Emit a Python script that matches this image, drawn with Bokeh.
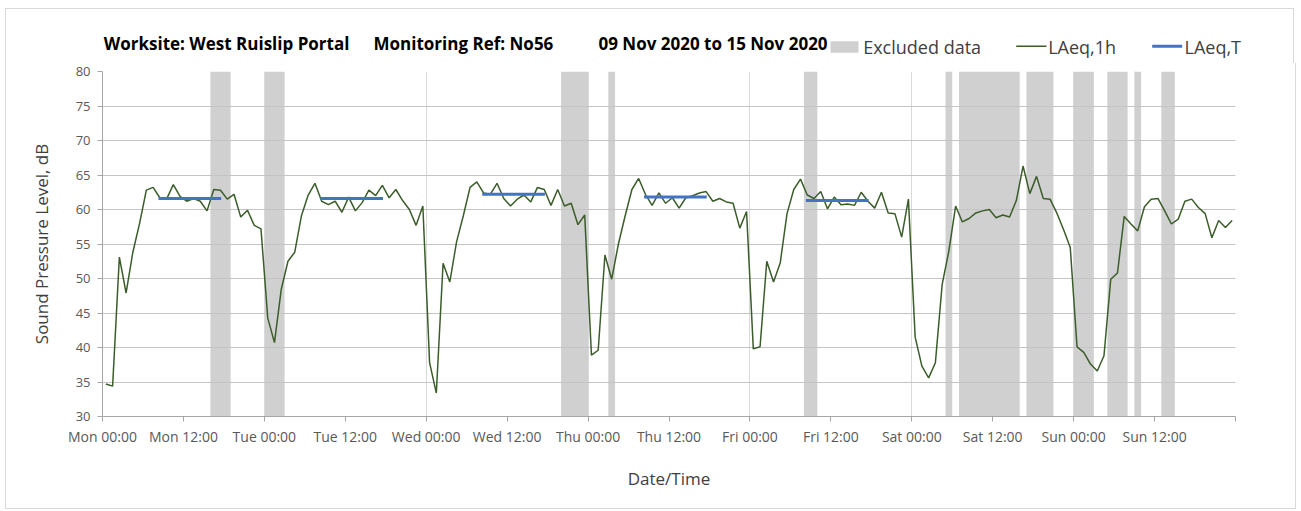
from bokeh.plotting import figure
from bokeh.models import Range1d, FixedTicker
from bokeh.core.properties import value
from bokeh.embed import file_html
from bokeh.resources import INLINE

# ---------------- data ----------------
# hourly LAeq,1h values (dB), one list per day, hour 00 .. 23
mon = [34.7, 34.4, 53.1, 47.9, 53.8, 58.0, 62.8, 63.2, 61.7, 61.5, 63.6, 61.9,
       61.2, 61.6, 61.2, 59.8, 62.9, 62.8, 61.5, 62.2, 58.9, 59.9, 57.7, 57.2]
tue = [44.3, 40.7, 48.4, 52.5, 53.8, 59.1, 62.1, 63.8, 61.2, 60.7, 61.2, 59.6,
       61.8, 59.8, 61.0, 62.8, 62.0, 63.5, 61.7, 62.9, 61.3, 60.0, 57.7, 60.5]
wed = [37.8, 33.4, 52.2, 49.5, 55.3, 59.1, 63.2, 64.0, 62.4, 62.2, 63.8, 61.6,
       60.5, 61.5, 62.1, 61.1, 63.2, 62.9, 60.6, 62.9, 60.5, 60.9, 57.8, 59.2]
thu = [38.9, 39.6, 53.4, 49.9, 55.0, 59.1, 62.9, 64.5, 62.2, 60.6, 62.4, 60.9,
       61.7, 60.2, 61.7, 62.0, 62.4, 62.6, 61.2, 61.6, 61.1, 60.9, 57.3, 59.7]
fri = [39.8, 40.1, 52.5, 49.5, 52.3, 59.4, 62.9, 64.4, 62.1, 61.6, 62.6, 60.1,
       61.8, 60.7, 60.8, 60.6, 62.5, 61.2, 60.2, 62.5, 59.5, 59.4, 56.0, 61.5]
sat = [41.5, 37.3, 35.6, 37.8, 49.1, 54.0, 60.5, 58.2, 58.7, 59.5, 59.8, 60.0,
       58.8, 59.2, 58.9, 61.3, 66.3, 62.3, 64.8, 61.6, 61.5, 59.5, 57.1, 54.5]
sun = [40.1, 39.3, 37.6, 36.6, 38.8, 49.9, 50.8, 59.0, 57.9, 56.9, 60.4, 61.5,
       61.6, 59.8, 57.9, 58.6, 61.2, 61.5, 60.3, 59.4, 55.9, 58.4, 57.4, 58.4]

# LAeq,T daytime periods (hours from Mon 00:00) and level
laeqT_start = [8.3, 32.3, 56.3, 80.3, 104.3]
laeqT_end = [17.6, 41.6, 65.6, 89.6, 113.6]
laeqT_value = [61.6, 61.6, 62.2, 61.8, 61.3]

# excluded data periods (hours from Mon 00:00)
excl_start = [16, 24, 68, 75, 104, 125, 127, 137, 144, 149, 153, 157]
excl_end = [19, 27, 72, 76, 106, 126, 136, 141, 147, 152, 154, 159]

# axis ticks
x_ticks = [0, 12, 24, 36, 48, 60, 72, 84, 96, 108, 120, 132, 144, 156, 168]
x_tick_labels = ["Mon 00:00", "Mon 12:00", "Tue 00:00", "Tue 12:00", "Wed 00:00",
                 "Wed 12:00", "Thu 00:00", "Thu 12:00", "Fri 00:00", "Fri 12:00",
                 "Sat 00:00", "Sat 12:00", "Sun 00:00", "Sun 12:00", ""]
day_lines = [24, 48, 72, 96, 120, 144, 168]
y_ticks = [30, 35, 40, 45, 50, 55, 60, 65, 70, 75, 80]
Y_MIN, Y_MAX = 30, 80
X_MIN, X_MAX = 0, 168

title_parts = ["Worksite: West Ruislip Portal", "Monitoring Ref: No56",
               "09 Nov 2020 to 15 Nov 2020"]
legend_labels = ["Excluded data", "LAeq,1h", "LAeq,T"]

laeq_1h = mon + tue + wed + thu + fri + sat + sun
hours = [i + 0.5 for i in range(len(laeq_1h))]

FONT = "Open Sans"
TXT = "#404040"
GREEN = "#3b5d2a"
BLUE = "#4472c4"
GREY = "#d0d0d0"
EDGE = "1px solid #d9d9d9"

INNER_W = 1289
HEAD_H = 55
LEFT0, TOP0 = 6, 9          # page position of the chart's inner top-left

# ---------------- header (title + legend) ----------------
h = figure(width=INNER_W, height=HEAD_H,
           x_range=Range1d(LEFT0, LEFT0 + INNER_W),
           y_range=Range1d(TOP0 + HEAD_H, TOP0),
           x_axis_type=None, y_axis_type=None,
           min_border=0, output_backend="svg", toolbar_location=None)
h.grid.visible = False
h.outline_line_color = None
h.background_fill_color = "white"
h.border_fill_color = "white"
h.styles = {"border-top": EDGE, "border-left": EDGE, "border-right": EDGE,
            "margin-top": "8px", "margin-left": "5px"}

h.text(x=[103.3, 373, 598], y=[42.5, 42.5, 42.5], text=title_parts,
       text_font=value(FONT), text_font_size="17px", text_font_style="bold",
       text_color="black", text_baseline="middle", text_align="left")

# legend swatches
h.quad(left=[830], right=[858], top=[40.7], bottom=[52.3],
       fill_color=GREY, line_color=None)
h.segment(x0=[1015.7], x1=[1046], y0=[45.8], y1=[45.8],
          line_color=GREEN, line_width=1.5)
h.segment(x0=[1151.7], x1=[1181.7], y0=[45.8], y1=[45.8],
          line_color=BLUE, line_width=3)
h.text(x=[862.7, 1047.7, 1184], y=[46, 46, 46], text=legend_labels,
       text_font=value(FONT), text_font_size="18px", text_color=TXT,
       text_baseline="middle", text_align="left")

# ---------------- main chart ----------------
p = figure(frame_width=1133, frame_height=345,
           min_border_left=96, min_border_right=INNER_W - 96 - 1133,
           min_border_top=8, min_border_bottom=92,
           x_range=Range1d(X_MIN, X_MAX), y_range=Range1d(Y_MIN, Y_MAX),
           output_backend="svg", toolbar_location=None)
p.outline_line_color = None
p.background_fill_color = "white"
p.border_fill_color = "white"
p.styles = {"border-bottom": EDGE, "border-left": EDGE, "border-right": EDGE,
            "margin-left": "5px"}

# excluded data shading (below grid lines)
p.quad(left=excl_start, right=excl_end,
       bottom=[Y_MIN] * len(excl_start), top=[Y_MAX] * len(excl_start),
       fill_color=GREY, line_color=None, level="image")

p.line(hours, laeq_1h, line_color=GREEN, line_width=1.5)
p.segment(x0=laeqT_start, x1=laeqT_end, y0=laeqT_value, y1=laeqT_value,
          line_color=BLUE, line_width=3)

# grids
p.xgrid.ticker = FixedTicker(ticks=day_lines)
p.xgrid.grid_line_color = "#d9d9d9"
p.ygrid.ticker = FixedTicker(ticks=y_ticks)
p.ygrid.grid_line_color = "#c4c4c4"

# axes
p.xaxis.ticker = FixedTicker(ticks=x_ticks)
p.xaxis.major_label_overrides = {t: l for t, l in zip(x_ticks, x_tick_labels)}
p.yaxis.ticker = FixedTicker(ticks=y_ticks)
for ax in (p.xaxis[0], p.yaxis[0]):
    ax.axis_line_color = "#a6a6a6"
    ax.major_tick_line_color = "#a6a6a6"
    ax.major_tick_out = 5
    ax.major_tick_in = 0
    ax.minor_tick_line_color = None
    ax.major_label_text_font = FONT
    ax.major_label_text_color = "#595959"
    ax.axis_label_text_font = FONT
    ax.axis_label_text_font_size = "17px"
    ax.axis_label_text_font_style = "normal"
    ax.axis_label_text_color = TXT
p.xaxis.major_label_text_font_size = "14px"
p.yaxis.major_label_text_font_size = "13px"
p.xaxis.major_label_standoff = 5
p.yaxis.major_label_standoff = 7

p.yaxis.axis_label = "Sound Pressure Level, dB"
p.yaxis.axis_label_standoff = 20
p.xaxis.axis_label = "Date/Time"
p.xaxis.axis_label_standoff = 18

open("out.html", "w").write(file_html([h, p], INLINE))
